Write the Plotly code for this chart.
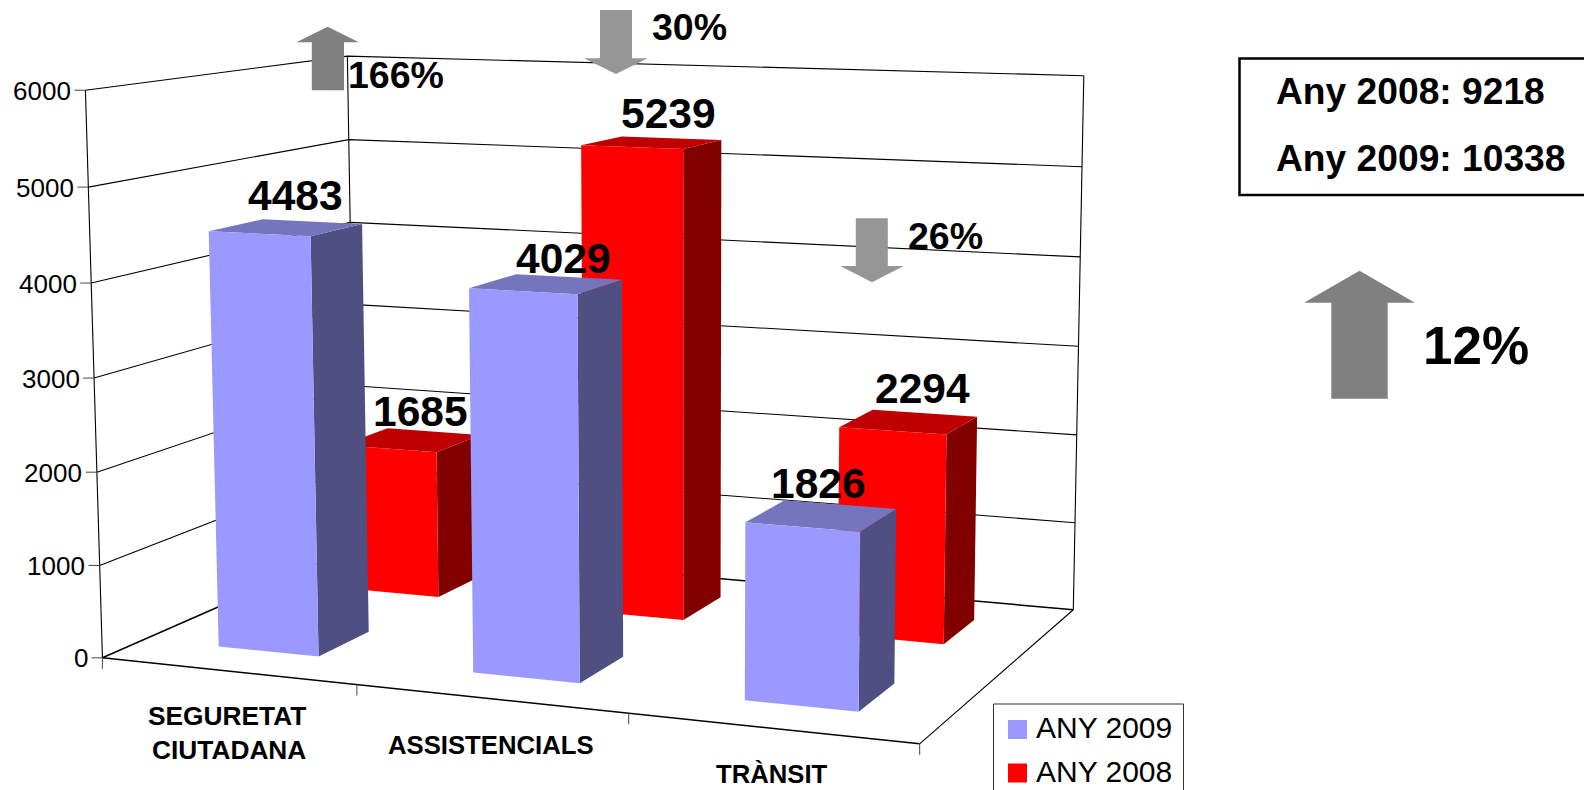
import numpy as np
import plotly.graph_objects as go

# ---------- data ----------
categories = ["SEGURETAT CIUTADANA", "ASSISTENCIALS", "TRÀNSIT"]
any_2009 = [4483, 4029, 1826]
any_2008 = [1685, 5239, 2294]
y_ticks = [0, 1000, 2000, 3000, 4000, 5000, 6000]
changes = ["166%", "30%", "26%"]
total_change = "12%"
totals = {"2008": sum(any_2008), "2009": sum(any_2009)}

# ---------- perspective scale: (category pos, depth, value share) -> page pixels ----------
CAM = np.array([[729.227152, 309.841133, -19.417623, 102.435807],
                [14.854648, -24.155312, -570.113822, 657.788735],
                [-0.095656, 0.159215, -0.028232, 1.0]])
Y_MAX = 6000
FONT = "Liberation Sans"


def pr(u, v, val):
    h = CAM @ np.array([u, v, val / Y_MAX, 1.0])
    return h[0] / h[2], h[1] / h[2]


def poly(fig, pts, color):
    xs, ys = zip(*pts)
    fig.add_trace(go.Scatter(x=list(xs) + [xs[0]], y=list(ys) + [ys[0]], mode="none",
                             fill="toself", fillcolor=color, showlegend=False, hoverinfo="skip"))


def seg(fig, pts, color="#000000", width=1.1):
    xs, ys = zip(*pts)
    fig.add_trace(go.Scatter(x=list(xs), y=list(ys), mode="lines", showlegend=False,
                             line=dict(color=color, width=width), hoverinfo="skip"))


def bar(fig, cat, depth_band, value, front, side, top):
    band = 1 / len(categories)
    u0 = (cat + 0.3) * band
    u1 = u0 + 0.4 * band
    v0 = (depth_band + 0.3) * 0.5
    v1 = v0 + 0.4 * 0.5
    poly(fig, [pr(u1, v0, 0), pr(u1, v1, 0), pr(u1, v1, value), pr(u1, v0, value)], side)
    poly(fig, [pr(u0, v0, value), pr(u1, v0, value), pr(u1, v1, value), pr(u0, v1, value)], top)
    poly(fig, [pr(u0, v0, 0), pr(u1, v0, 0), pr(u1, v0, value), pr(u0, v0, value)], front)


fig = go.Figure()

# walls and gridlines
for t in y_ticks:
    seg(fig, [pr(0, 0, t), pr(0, 1, t), pr(1, 1, t)], width=1.1 if t else 1.5)
seg(fig, [pr(0, 0, 0), pr(0, 0, Y_MAX)])
seg(fig, [pr(0, 1, 0), pr(0, 1, Y_MAX)])
seg(fig, [pr(1, 1, 0), pr(1, 1, Y_MAX)])
seg(fig, [pr(0, 0, 0), pr(1, 0, 0)], width=1.5)
seg(fig, [pr(1, 0, 0), pr(1, 1, 0)])

# axis ticks
TICK_GREY = "#555555"
for t in y_ticks:
    x, y = pr(0, 0, t)
    seg(fig, [(x - 11, y), (x, y)], color=TICK_GREY)
for i in range(len(categories) + 1):
    x, y = pr(i / len(categories), 0, 0)
    seg(fig, [(x, y), (x, y + 11)], color=TICK_GREY)

# bars, back row first
for i, v in enumerate(any_2008):
    bar(fig, i, 1, v, "#FF0000", "#800000", "#BF0000")
for i, v in enumerate(any_2009):
    bar(fig, i, 0, v, "#9999FF", "#4F4F82", "#7575BD")

# legend swatches
LEG_MARK_X = 1017.5
for name, color, y in [("ANY 2009", "#9999FF", 729.5), ("ANY 2008", "#FF0000", 773)]:
    fig.add_trace(go.Scatter(x=[LEG_MARK_X], y=[y], mode="markers", name=name, showlegend=False,
                             marker=dict(symbol="square", size=19, color=color, line=dict(width=0))))

ann = []


def text(s, x, y, size, bold=False, anchor="center"):
    ann.append(dict(x=x, y=y, xref="x", yref="y", text=f"<b>{s}</b>" if bold else s, showarrow=False,
                    xanchor=anchor, yanchor="middle", borderpad=0,
                    font=dict(family=FONT, size=size, color="#000000")))


# y tick labels
for t in y_ticks:
    x, y = pr(0, 0, t)
    text(str(t), x - 13.5, y + 0.5, 26, anchor="right")

# category labels
text("SEGURETAT", 227, 716, 26.3, True)
text("CIUTADANA", 228.5, 750, 26.3, True)
text(categories[1], 491, 745, 25.7, True)
text(categories[2], 772, 774, 25.7, True)

# value labels
for v, (x, y) in zip(any_2009, [(295.2, 195.8), (563.3, 258), (818.8, 483.3)]):
    text(str(v), x, y, 42.5, True)
for v, (x, y) in zip(any_2008, [(420.6, 411.3), (668.6, 113.3), (922.1, 388.3)]):
    text(str(v), x, y, 42.5, True)

# change labels
for s, (x, y) in zip(changes, [(395.8, 75), (689.3, 27), (945, 235.5)]):
    text(s, x, y, 37.5, True)
text(total_change, 1476.2, 345, 53, True)

# totals box text
text(f"Any 2008: {totals['2008']}", 1275, 91, 37.2, True, "left")
text(f"Any 2009: {totals['2009']}", 1275, 158, 37.2, True, "left")

# legend text
text("ANY 2009", 1035, 727.5, 30, anchor="left")
text("ANY 2008", 1035, 771, 30, anchor="left")

# arrows: (tip y, head y, end y, head x0, x1, shaft x0, x1, colour)
ARROWS = [(26.7, 42.3, 90.3, 296.4, 358.9, 311.8, 344, "#808080"),
          (74, 58.3, 10, 584, 647.8, 600, 632, "#969696"),
          (282.3, 266, 218.3, 840.3, 903.7, 855.8, 887.8, "#969696"),
          (270.7, 302.7, 398.7, 1304, 1415, 1331.3, 1387.7, "#808080")]
shapes = []
for ty, hy, ey, hx0, hx1, sx0, sx1, col in ARROWS:
    tx = (hx0 + hx1) / 2
    path = f"M{tx},{ty} L{hx1},{hy} L{sx1},{hy} L{sx1},{ey} L{sx0},{ey} L{sx0},{hy} L{hx0},{hy} Z"
    shapes.append(dict(type="path", path=path, xref="x", yref="y", fillcolor=col,
                       line=dict(width=0), layer="above"))
# totals box and legend frame, both running off the page
shapes.append(dict(type="rect", x0=1239.5, x1=1600, y0=58.5, y1=195, xref="x", yref="y",
                   line=dict(color="#000000", width=2.5), layer="below"))
shapes.append(dict(type="rect", x0=993.5, x1=1183.5, y0=704, y1=810, xref="x", yref="y",
                   line=dict(color="#333333", width=1), layer="below"))

hidden = dict(visible=False, fixedrange=True)
fig.update_layout(width=1584, height=790, autosize=False, margin=dict(l=0, r=0, t=0, b=0, pad=0),
                  paper_bgcolor="#FFFFFF", plot_bgcolor="#FFFFFF", showlegend=False,
                  xaxis=dict(range=[0, 1584], domain=[0, 1], **hidden),
                  yaxis=dict(range=[790, 0], domain=[0, 1], **hidden),
                  annotations=ann, shapes=shapes, font=dict(family=FONT))

fig.write_html("out.html", config={"displayModeBar": False},
               post_script="document.body.style.margin='0';document.documentElement.style.overflow='hidden';")
